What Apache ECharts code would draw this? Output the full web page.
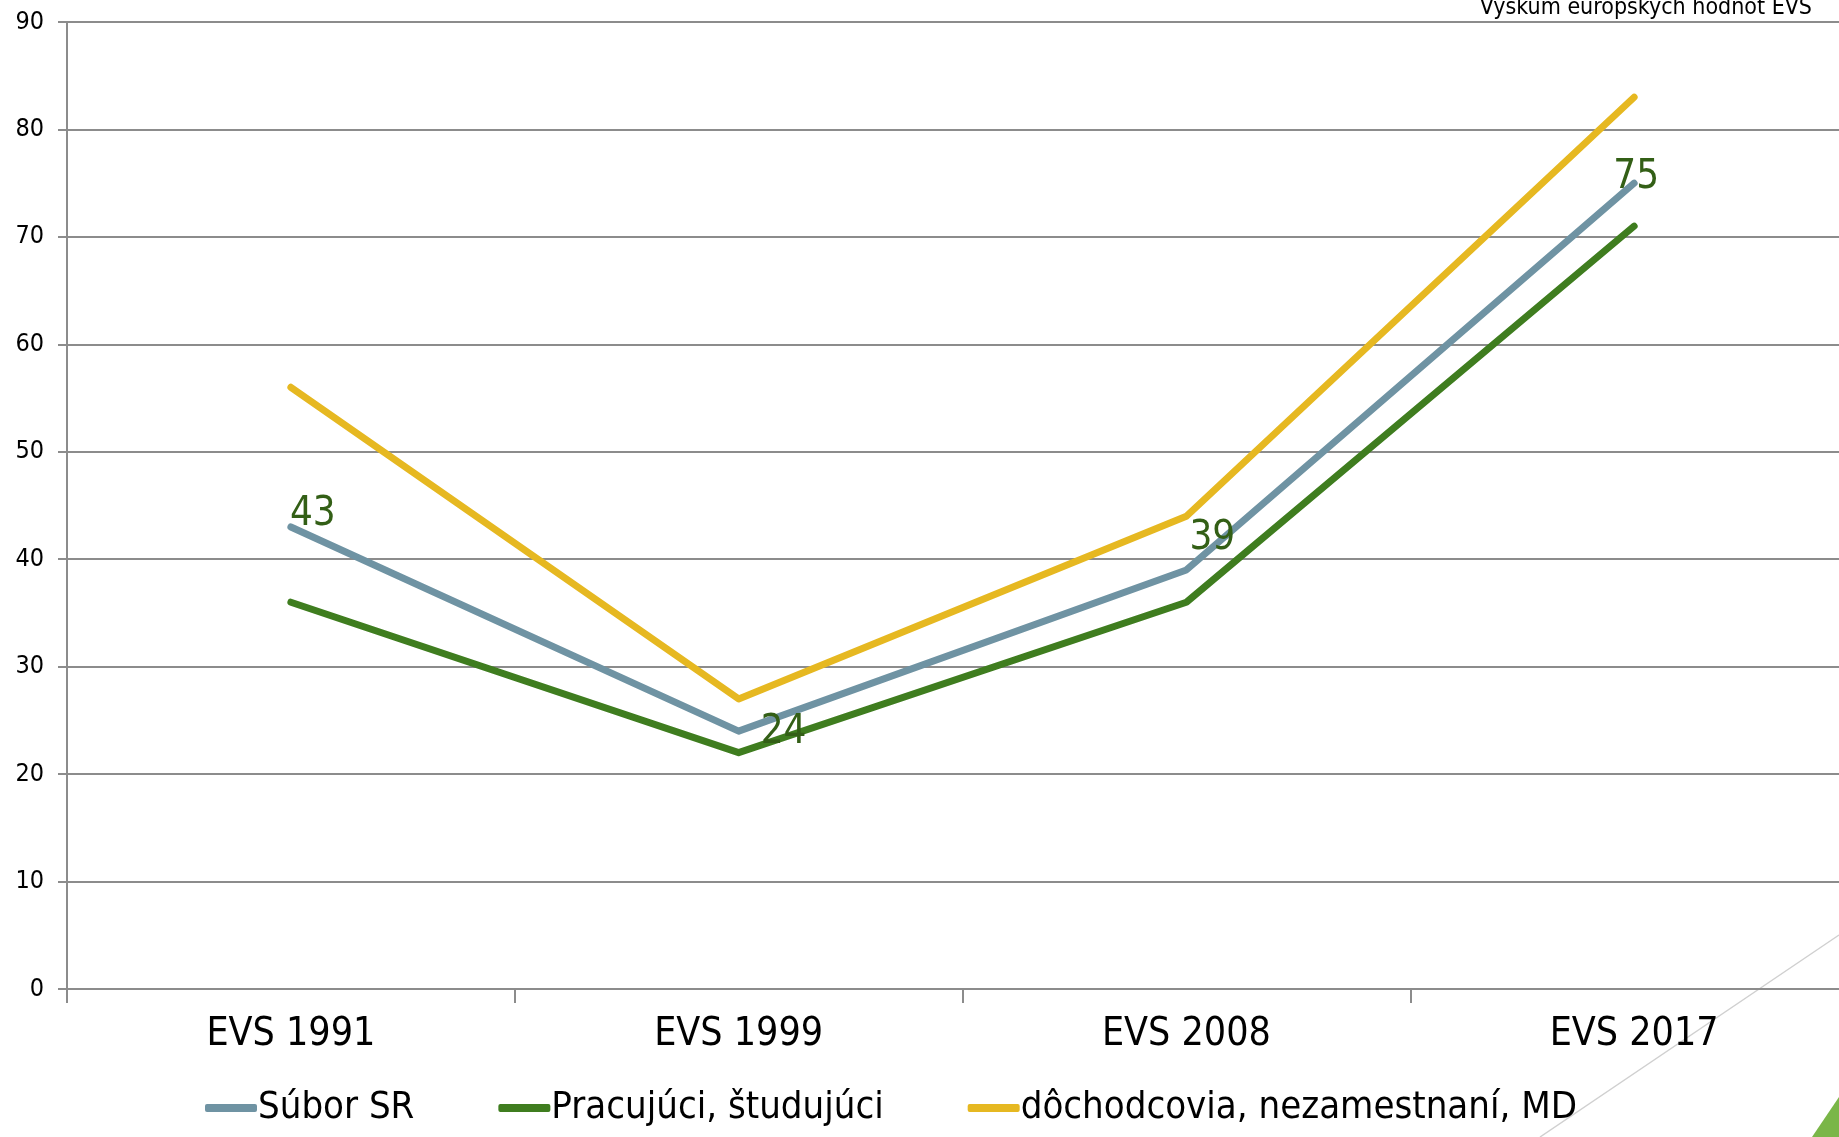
<!DOCTYPE html>
<html>
<head>
<meta charset="utf-8">
<script src="https://cdn.jsdelivr.net/npm/echarts@6/dist/echarts.min.js"></script>
<style>
  html, body { margin: 0; padding: 0; background: #fff; overflow: hidden; }
  /* the slide crops the plot on the right, so the chart is a bit wider than the window */
  #chart { width: 1858px; height: 1137px; }
</style>
</head>
<body>
<div id="chart"></div>
<script>
  // data
  var categories = ['EVS 1991', 'EVS 1999', 'EVS 2008', 'EVS 2017'];
  var suborSR = [43, 24, 39, 75];
  var pracujuci = [36, 22, 36, 71];
  var dochodcovia = [56, 27, 44, 83];
  var yTicks = [0, 10, 20, 30, 40, 50, 60, 70, 80, 90];

  var font = '"DejaVu Sans Condensed", "DejaVu Sans", "Noto Sans", sans-serif';
  var gray = '#8c8c8c';

  // label placement for the Súbor SR points (like the hand-moved excel labels)
  var labelPos = [
    { align: 'left', verticalAlign: 'bottom', offset: [-1, 8] },
    { align: 'left', verticalAlign: 'middle', offset: [22, 1] },
    { align: 'left', verticalAlign: 'bottom', offset: [3, -11] },
    { align: 'center', verticalAlign: 'middle', offset: [2, -6] }
  ];

  var suborData = suborSR.map(function (v, i) {
    return {
      value: v,
      label: Object.assign({
        show: true,
        position: [1, 1],
        color: '#335f16',
        fontSize: 40,
        fontFamily: font
      }, labelPos[i])
    };
  });

  function lineSeries(name, data, color) {
    return {
      name: name,
      type: 'line',
      data: data,
      symbol: 'circle',
      symbolSize: 2,
      itemStyle: { color: color },
      lineStyle: { color: color, width: 7, cap: 'round', join: 'round' },
      emphasis: { disabled: true }
    };
  }

  var dom = echarts.init(document.getElementById('chart'));
  var option = {
    animation: false,
    textStyle: { fontFamily: font },
    grid: { left: 67, right: 0, top: 22, bottom: 148, containLabel: false },
    xAxis: {
      type: 'category',
      data: categories,
      boundaryGap: true,
      axisLine: { show: true, lineStyle: { color: gray, width: 2 } },
      axisTick: { show: true, length: 14, lineStyle: { color: gray, width: 2 } },
      axisLabel: { color: '#000', fontSize: 39, margin: 26, fontFamily: font }
    },
    yAxis: {
      type: 'value',
      min: yTicks[0],
      max: yTicks[yTicks.length - 1],
      interval: 10,
      axisLine: { show: true, lineStyle: { color: gray, width: 2 } },
      axisTick: { show: true, length: 9, lineStyle: { color: gray, width: 2 } },
      axisLabel: { color: '#000', fontSize: 25, margin: 23, fontFamily: font },
      splitLine: { show: true, lineStyle: { color: gray, width: 2 } }
    },
    legend: {
      left: 200,
      top: 1084,
      icon: 'roundRect',
      itemWidth: 52,
      itemHeight: 8,
      itemGap: 84,
      textStyle: { color: '#000', fontSize: 38, fontFamily: font, padding: [0, 0, 0, -4] },
      data: ['Súbor SR', 'Pracujúci, študujúci', 'dôchodcovia, nezamestnaní, MD']
    },
    graphic: [
      {
        type: 'text',
        x: 1812,
        y: 20,
        style: {
          text: 'Výskum európskych hodnôt EVS',
          font: '23px ' + font,
          fill: '#000',
          align: 'right',
          verticalAlign: 'bottom'
        }
      },
      {
        type: 'line',
        shape: { x1: 1839, y1: 935, x2: 1540, y2: 1137 },
        style: { stroke: '#d0d0d0', lineWidth: 1.5 },
        z: -1
      },
      {
        type: 'polygon',
        shape: { points: [[1812, 1137], [1839, 1097], [1839, 1137]] },
        style: { fill: '#7ab648' }
      }
    ],
    series: [
      lineSeries('Súbor SR', suborData, '#6f93a3'),
      lineSeries('Pracujúci, študujúci', pracujuci, '#3f7d1f'),
      lineSeries('dôchodcovia, nezamestnaní, MD', dochodcovia, '#e6b821')
    ]
  };
  dom.setOption(option);
  window.addEventListener('resize', function () { dom.resize(); });
</script>
</body>
</html>
